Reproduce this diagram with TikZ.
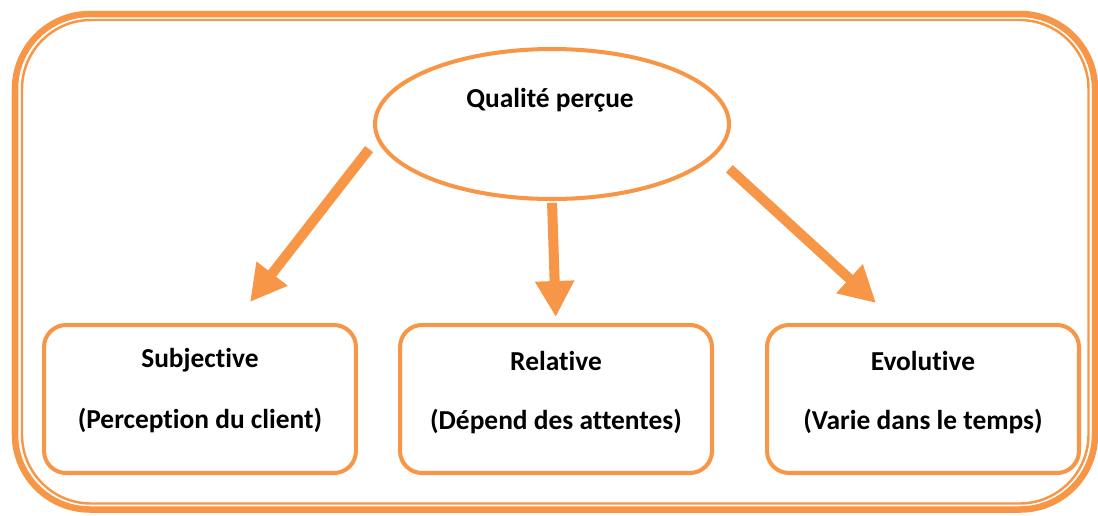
\documentclass[tikz,border=0pt]{standalone}
\usepackage{fontspec}
\setmainfont{Carlito}[Ligatures=CommonOff]
\usetikzlibrary{arrows.meta,shapes.geometric}
\definecolor{qorange}{HTML}{F79646}
\tikzset{
  frame/.style={draw=qorange},
  bubble/.style={ellipse,draw=qorange,line width=2.3pt,minimum width=7.08cm,minimum height=3cm,inner sep=0pt},
  carac/.style={draw=qorange,line width=2.3pt,rounded corners=0.44cm,minimum width=6.24cm,minimum height=2.96cm,inner sep=0pt},
  lbl/.style={font=\bfseries\fontsize{15.6}{18}\selectfont,inner sep=2pt},
  fleche/.style={draw=qorange,line width=5.7pt,-{Triangle[length=20.5pt,width=21pt]}}
}
\begin{document}
\begin{tikzpicture}[x=0.02cm,y=-0.02cm]
			\useasboundingbox (0,0) rectangle (1098,515);
			% double cadre
			\draw[frame,line width=3.7pt,rounded corners=1.5cm] (15,14) rectangle (1095,509.5);
			\draw[frame,line width=1.4pt,rounded corners=1.38cm] (22,20) rectangle (1088.5,503.5);
			% qualite percue
			\node[bubble] (qp) at (552,124) {};
			\node[lbl] (qpT) at (550,100) {Qualité perçue};
			% les trois caracteres
			\node[carac] (sub) at (200,399) {};
			\node[carac] (rel) at (556,399) {};
			\node[carac] (evo) at (923,399) {};
			\node[lbl] (subA) at (200,360) {Subjective};\node[lbl] (subB) at (200,420) {(Perception du client)};
			\node[lbl] (relA) at (556,361) {Relative};\node[lbl] (relB) at (556,421) {(Dépend des attentes)};
			\node[lbl] (evoA) at (923,361) {Evolutive};\node[lbl] (evoB) at (923,421) {(Varie dans le temps)};
			% fleches
			\coordinate (subTip) at (250,302);\coordinate (evoTip) at (876,303);
			\draw[fleche,shorten <=7pt] (qp.185) -- (subTip);
			\draw[fleche,shorten <=1pt,shorten >=3.4pt] (qp.south) -- (rel.north);
			\draw[fleche,shorten <=11pt] (qp.349) -- (evoTip);
\end{tikzpicture}
\end{document}
